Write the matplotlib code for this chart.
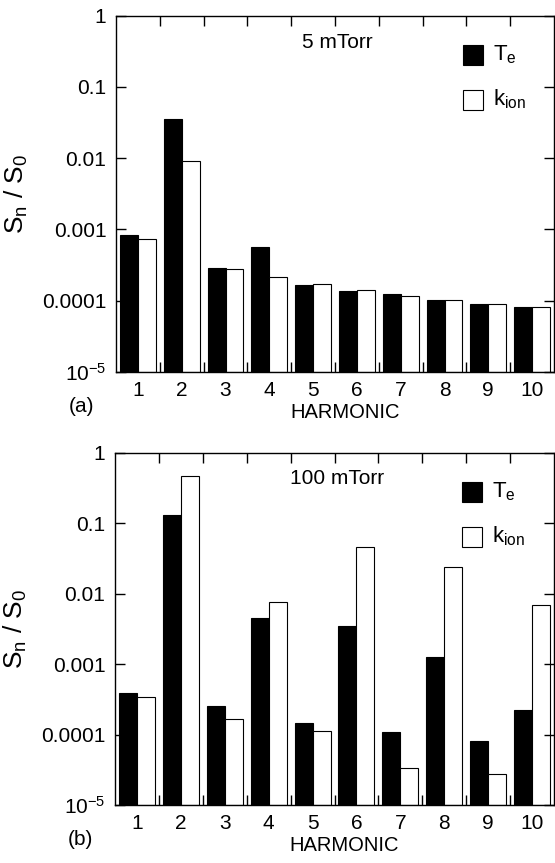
import numpy as np
import matplotlib
matplotlib.use("Agg")
import matplotlib.pyplot as plt
from matplotlib.patches import Rectangle
from matplotlib.ticker import NullLocator

plt.rcParams['font.family'] = ['Liberation Sans', 'DejaVu Sans']
plt.rcParams['mathtext.fontset'] = 'custom'
plt.rcParams['mathtext.rm'] = 'Liberation Sans'
plt.rcParams['mathtext.it'] = 'Liberation Sans'

harmonic = np.arange(1, 11)

# 5 mTorr
te_5 = [8.3e-4, 3.6e-2, 2.9e-4, 5.6e-4, 1.68e-4, 1.38e-4, 1.23e-4, 1.03e-4, 9.1e-5, 8.3e-5]
kion_5 = [7.3e-4, 9.2e-3, 2.8e-4, 2.16e-4, 1.74e-4, 1.41e-4, 1.16e-4, 1.02e-4, 9.0e-5, 8.3e-5]

# 100 mTorr
te_100 = [3.9e-4, 0.129, 2.55e-4, 4.5e-3, 1.45e-4, 3.46e-3, 1.07e-4, 1.26e-3, 8.0e-5, 2.24e-4]
kion_100 = [3.4e-4, 0.47, 1.64e-4, 7.5e-3, 1.11e-4, 4.6e-2, 3.4e-5, 2.37e-2, 2.75e-5, 6.9e-3]

ytick_vals = [1e-5, 1e-4, 1e-3, 1e-2, 1e-1, 1]
ytick_labels = [r'10$^{\mathregular{-5}}$', '0.0001', '0.001', '0.01', '0.1', '1']

FS = 15
W, H = 555, 863
ymin = 1e-5
bw = 0.41


def draw_panel(ax, te, kion, title, tag, ax_px):
    te = np.array(te)
    kion = np.array(kion)
    ax.bar(harmonic - bw, te - ymin, bottom=ymin, width=bw, align='edge',
           color='black', edgecolor='black', linewidth=0.8)
    ax.bar(harmonic, kion - ymin, bottom=ymin, width=bw, align='edge',
           color='white', edgecolor='black', linewidth=0.8)

    ax.set_yscale('log')
    ax.set_ylim(ymin, 1)
    ax.set_xlim(0.5, 10.5)
    ax.set_yticks(ytick_vals)
    ax.set_yticklabels(ytick_labels)
    ax.yaxis.set_minor_locator(NullLocator())

    # group separators as ticks, labels at centres
    ax.set_xticks(np.arange(1.5, 10, 1.0))
    ax.set_xticklabels([])
    ax.set_xticks(harmonic, minor=True)
    ax.set_xticklabels([str(h) for h in harmonic], minor=True)
    ax.tick_params(which='major', direction='in', length=7, width=1.0,
                   top=True, right=True, labelsize=FS, pad=7)
    ax.tick_params(axis='x', which='minor', length=0, pad=6.5, labelsize=FS)
    for s in ax.spines.values():
        s.set_linewidth(1.0)

    ax.text(0.505, 0.926, title, transform=ax.transAxes, ha='center',
            va='center', fontsize=FS)

    # legend, placed from pixel offsets inside the axes
    w_px, h_px = ax_px
    def fx(px):
        return px / w_px

    def fy(py):
        return 1 - py / h_px

    ax.add_patch(Rectangle((fx(347), fy(49.3)), fx(20), 20 / h_px,
                           transform=ax.transAxes, facecolor='black',
                           edgecolor='black', linewidth=0.8, clip_on=False))
    ax.add_patch(Rectangle((fx(347), fy(94.3)), fx(20), 20 / h_px,
                           transform=ax.transAxes, facecolor='white',
                           edgecolor='black', linewidth=0.8, clip_on=False))
    ax.text(fx(377), fy(44.5), r'T$_{\mathregular{e}}$', transform=ax.transAxes,
            ha='left', va='baseline', fontsize=FS + 1)
    ax.text(fx(377), fy(89.5), r'k$_{\mathregular{ion}}$', transform=ax.transAxes,
            ha='left', va='baseline', fontsize=FS + 1)

    ax.set_ylabel(r'S$_{\mathregular{n}}$ / S$_{\mathregular{0}}$', fontsize=19)
    ax.yaxis.set_label_coords(fx(30 - 116), 0.5)

    ax.text(0.523, -(40 / h_px), 'HARMONIC', transform=ax.transAxes,
            ha='center', va='center', fontsize=FS - 0.5)
    ax.text(fx(81.5 - 116), -(34 / h_px), tag, transform=ax.transAxes,
            ha='center', va='center', fontsize=FS)


fig = plt.figure(figsize=(W / 100, H / 100), dpi=100)

top_px = (116, 15.7, 438, 356.3)
bot_px = (115, 452.7, 439, 352.3)

ax1 = fig.add_axes([top_px[0] / W, 1 - (top_px[1] + top_px[3]) / H,
                    top_px[2] / W, top_px[3] / H])
ax2 = fig.add_axes([bot_px[0] / W, 1 - (bot_px[1] + bot_px[3]) / H,
                    bot_px[2] / W, bot_px[3] / H])

draw_panel(ax1, te_5, kion_5, '5 mTorr', '(a)', top_px[2:])
draw_panel(ax2, te_100, kion_100, '100 mTorr', '(b)', bot_px[2:])

fig.savefig('out.png', dpi=100)
